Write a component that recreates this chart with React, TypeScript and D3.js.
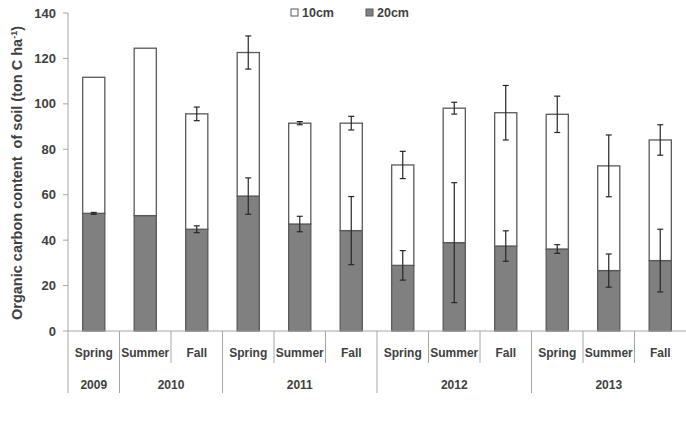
import * as d3 from "d3";

const seasons = ["Spring", "Summer", "Fall", "Spring", "Summer", "Fall", "Spring", "Summer", "Fall", "Spring", "Summer", "Fall"];
const years = ["2009", "2010", "2010", "2011", "2011", "2011", "2012", "2012", "2012", "2013", "2013", "2013"];

// 20cm layer (bottom of each stack) and its error
const depth20 = [51.8, 50.8, 44.8, 59.4, 47.1, 44.2, 28.9, 38.9, 37.4, 36.1, 26.6, 31.0];
const err20 = [0.4, 0, 1.5, 8.0, 3.4, 15.0, 6.5, 26.4, 6.7, 1.9, 7.3, 13.8];
// 10cm layer stacked on top, and error of the stack total
const depth10 = [59.9, 73.7, 50.8, 63.2, 44.4, 47.3, 44.2, 59.2, 58.7, 59.3, 46.1, 53.1];
const errTop = [0, 0, 3.0, 7.3, 0.7, 3.0, 6.0, 2.6, 12.0, 8.0, 13.6, 6.7];

const yTicks = [0, 20, 40, 60, 80, 100, 120, 140];

const W = 686;
const H = 424;
const left = 68;
const right = 686;
const top = 13;
const bottom = 331;
const labelFont = "'Liberation Sans', Arial, sans-serif";
const textColor = "#404040";
const axisColor = "#a6a6a6";

export default function App() {
  const keys = d3.range(seasons.length).map(String);
  const x = d3.scaleBand<string>().domain(keys).range([left, right]).padding(0);
  const y = d3.scaleLinear().domain([0, 140]).range([bottom, top]);
  const bw = x.bandwidth() * 0.43;

  const rows = keys.map((k, i) => ({ key: k, d20: depth20[i], d10: depth10[i] }));
  const stacked = d3.stack<{ key: string; d20: number; d10: number }>().keys(["d20", "d10"])(rows);
  const fills = ["#808080", "#ffffff"];
  const errs = [err20, errTop];

  // year groups from consecutive equal years
  const groups: { year: string; start: number; end: number }[] = [];
  years.forEach((yr, i) => {
    const g = groups[groups.length - 1];
    if (g && g.year === yr) g.end = i;
    else groups.push({ year: yr, start: i, end: i });
  });
  const groupStarts = new Set(groups.map((g) => g.start));

  const cap = 3;

  return (
    <svg width={W} height={H} style={{ position: "absolute", left: 0, top: 0, background: "#fff" }}>
      {/* y axis */}
      <line x1={left} x2={left} y1={top} y2={bottom} stroke={axisColor} strokeWidth={1} />
      {yTicks.map((t) => (
        <g key={t}>
          <line x1={left - 5} x2={left} y1={y(t)} y2={y(t)} stroke={axisColor} />
          <text x={left - 12} y={y(t)} dy="0.35em" textAnchor="end" fontFamily={labelFont} fontWeight="bold" fontSize={13} fill={textColor}>
            {t}
          </text>
        </g>
      ))}
      <text
        transform={`translate(22,${(top + bottom) / 2 + 1}) rotate(-90)`}
        textAnchor="middle"
        fontFamily={labelFont}
        fontWeight="bold"
        fontSize={14.5}
        fill={textColor}
        style={{ whiteSpace: "pre" }}
      >
        {"Organic carbon content  of soil (ton C ha"}
        <tspan fontSize={9} baselineShift="super">-1</tspan>)
      </text>

      {/* stacked bars */}
      {stacked.map((layer, li) =>
        layer.map((d, i) => (
          <rect
            key={`${li}-${i}`}
            x={(x(keys[i]) ?? 0) + (x.bandwidth() - bw) / 2}
            y={y(d[1])}
            width={bw}
            height={y(d[0]) - y(d[1])}
            fill={fills[li]}
            stroke="#595959"
            strokeWidth={1.3}
          />
        ))
      )}

      {/* error bars */}
      {stacked.map((layer, li) =>
        layer.map((d, i) => {
          const e = errs[li][i];
          if (!e) return null;
          const cx = (x(keys[i]) ?? 0) + x.bandwidth() / 2;
          return (
            <g key={`e${li}-${i}`} stroke="#262626" strokeWidth={1.2}>
              <line x1={cx} x2={cx} y1={y(d[1] + e)} y2={y(d[1] - e)} />
              <line x1={cx - cap} x2={cx + cap} y1={y(d[1] + e)} y2={y(d[1] + e)} />
              <line x1={cx - cap} x2={cx + cap} y1={y(d[1] - e)} y2={y(d[1] - e)} />
            </g>
          );
        })
      )}

      {/* category axis */}
      <line x1={left} x2={right} y1={bottom} y2={bottom} stroke={axisColor} />
      {keys.map((k, i) => (
        <g key={`c${k}`}>
          <line
            x1={x(k) ?? 0}
            x2={x(k) ?? 0}
            y1={bottom}
            y2={groupStarts.has(i) ? 393 : 363}
            stroke={axisColor}
          />
          <text
            x={(x(k) ?? 0) + x.bandwidth() / 2}
            y={353}
            dy="0.35em"
            textAnchor="middle"
            fontFamily={labelFont}
            fontWeight="bold"
            fontSize={12}
            fill={textColor}
          >
            {seasons[i]}
          </text>
        </g>
      ))}
      {groups.map((g) => {
        const x0 = x(keys[g.start]) ?? 0;
        const x1 = (x(keys[g.end]) ?? 0) + x.bandwidth();
        return (
          <text
            key={g.year}
            x={(x0 + x1) / 2}
            y={385}
            dy="0.35em"
            textAnchor="middle"
            fontFamily={labelFont}
            fontWeight="bold"
            fontSize={12}
            fill={textColor}
          >
            {g.year}
          </text>
        );
      })}

      {/* legend */}
      {[
        { label: "10cm", fill: "#ffffff", x: 291 },
        { label: "20cm", fill: "#808080", x: 366 },
      ].map((l) => (
        <g key={l.label}>
          <rect x={l.x} y={9} width={7} height={7} fill={l.fill} stroke="#595959" strokeWidth={1} />
          <text x={l.x + 11} y={13} dy="0.35em" fontFamily={labelFont} fontWeight="bold" fontSize={12.5} fill={textColor}>
            {l.label}
          </text>
        </g>
      ))}
    </svg>
  );
}
